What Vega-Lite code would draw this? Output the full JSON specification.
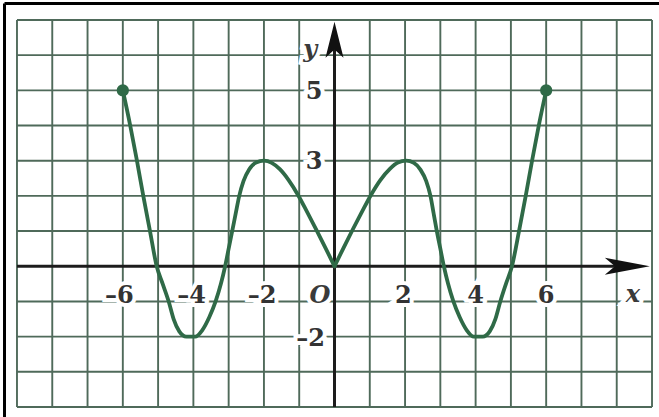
{
  "$schema": "https://vega.github.io/schema/vega-lite/v6.json",
  "width": 655,
  "height": 414,
  "autosize": {"type": "none"},
  "padding": {"left": 4, "top": 3, "right": 0, "bottom": 0},
  "background": "white",
  "config": {"view": {"stroke": null}},
  "datasets": {
    "gx": [{"v": -9}, {"v": -8}, {"v": -7}, {"v": -6}, {"v": -5}, {"v": -4}, {"v": -3}, {"v": -2}, {"v": -1}, {"v": 1}, {"v": 2}, {"v": 3}, {"v": 4}, {"v": 5}, {"v": 6}, {"v": 7}, {"v": 8}, {"v": 9}],
    "gy": [{"v": -4}, {"v": -3}, {"v": -2}, {"v": -1}, {"v": 1}, {"v": 2}, {"v": 3}, {"v": 4}, {"v": 5}, {"v": 6}, {"v": 7}],
    "axes": [
      {"x1": -9, "x2": 8.4, "y1": 0, "y2": 0},
      {"x1": 0, "x2": 0, "y1": -4, "y2": 6.6}
    ],
    "arrowx": [{"x": 8.3, "y": 0}],
    "arrowy": [{"x": 0, "y": 6.44}],
    "curve": [
      {"h": "L", "x": -6, "y": 5},
      {"h": "L", "x": -5.79, "y": 4},
      {"h": "L", "x": -5.6, "y": 3},
      {"h": "L", "x": -5.42, "y": 2},
      {"h": "L", "x": -5.23, "y": 1},
      {"h": "L", "x": -5.04, "y": 0},
      {"h": "L", "x": -4.87, "y": -0.5},
      {"h": "L", "x": -4.7, "y": -1},
      {"h": "L", "x": -4.56, "y": -1.5},
      {"h": "L", "x": -4.4, "y": -1.85},
      {"h": "L", "x": -4.2, "y": -2},
      {"h": "L", "x": -3.95, "y": -2},
      {"h": "L", "x": -3.75, "y": -1.82},
      {"h": "L", "x": -3.55, "y": -1.45},
      {"h": "L", "x": -3.37, "y": -1},
      {"h": "L", "x": -3.22, "y": -0.5},
      {"h": "L", "x": -3.1, "y": 0},
      {"h": "L", "x": -3.0, "y": 0.5},
      {"h": "L", "x": -2.9, "y": 1},
      {"h": "L", "x": -2.8, "y": 1.5},
      {"h": "L", "x": -2.7, "y": 2},
      {"h": "L", "x": -2.58, "y": 2.42},
      {"h": "L", "x": -2.42, "y": 2.75},
      {"h": "L", "x": -2.22, "y": 2.95},
      {"h": "L", "x": -2.0, "y": 3},
      {"h": "L", "x": -1.78, "y": 2.94},
      {"h": "L", "x": -1.55, "y": 2.76},
      {"h": "L", "x": -1.3, "y": 2.45},
      {"h": "L", "x": -1.03, "y": 2.02},
      {"h": "L", "x": -0.77, "y": 1.53},
      {"h": "L", "x": -0.51, "y": 1.03},
      {"h": "L", "x": -0.25, "y": 0.51},
      {"h": "L", "x": 0, "y": 0},
      {"h": "R", "x": 0, "y": 0},
      {"h": "R", "x": 0.25, "y": 0.51},
      {"h": "R", "x": 0.51, "y": 1.03},
      {"h": "R", "x": 0.77, "y": 1.53},
      {"h": "R", "x": 1.03, "y": 2.02},
      {"h": "R", "x": 1.3, "y": 2.45},
      {"h": "R", "x": 1.57, "y": 2.77},
      {"h": "R", "x": 1.8, "y": 2.95},
      {"h": "R", "x": 2.03, "y": 3},
      {"h": "R", "x": 2.25, "y": 2.94},
      {"h": "R", "x": 2.44, "y": 2.74},
      {"h": "R", "x": 2.6, "y": 2.42},
      {"h": "R", "x": 2.72, "y": 2},
      {"h": "R", "x": 2.81, "y": 1.5},
      {"h": "R", "x": 2.9, "y": 1},
      {"h": "R", "x": 3.0, "y": 0.5},
      {"h": "R", "x": 3.1, "y": 0},
      {"h": "R", "x": 3.22, "y": -0.5},
      {"h": "R", "x": 3.37, "y": -1},
      {"h": "R", "x": 3.55, "y": -1.45},
      {"h": "R", "x": 3.75, "y": -1.82},
      {"h": "R", "x": 3.95, "y": -2},
      {"h": "R", "x": 4.2, "y": -2},
      {"h": "R", "x": 4.4, "y": -1.85},
      {"h": "R", "x": 4.56, "y": -1.5},
      {"h": "R", "x": 4.7, "y": -1},
      {"h": "R", "x": 4.86, "y": -0.5},
      {"h": "R", "x": 5.03, "y": 0},
      {"h": "R", "x": 5.23, "y": 1},
      {"h": "R", "x": 5.42, "y": 2},
      {"h": "R", "x": 5.6, "y": 3},
      {"h": "R", "x": 5.79, "y": 4},
      {"h": "R", "x": 6, "y": 5}
    ],
    "dots": [{"x": -6, "y": 5}, {"x": 6, "y": 5}],
    "nums": [
      {"t": "–6", "x": -6.1, "y": -0.85},
      {"t": "–4", "x": -4.05, "y": -0.85},
      {"t": "–2", "x": -2.05, "y": -0.85},
      {"t": "2", "x": 1.95, "y": -0.85},
      {"t": "4", "x": 4.0, "y": -0.85},
      {"t": "6", "x": 6.0, "y": -0.85},
      {"t": "5", "x": -0.58, "y": 4.95},
      {"t": "3", "x": -0.58, "y": 2.96},
      {"t": "–2", "x": -0.68, "y": -2.07}
    ],
    "letters": [
      {"t": "O", "x": -0.41, "y": -0.85},
      {"t": "x", "x": 8.46, "y": -0.82},
      {"t": "y", "x": -0.69, "y": 6.15}
    ]
  },
  "layer": [
    {
      "data": {"name": "gx"},
      "mark": {"type": "rule", "color": "#4f6a5a", "strokeWidth": 1.9},
      "encoding": {
        "x": {"field": "v", "type": "quantitative", "scale": {"domain": [-9.368, 9.198], "nice": false, "zero": false},
              "axis": {"orient": "top", "domain": true, "domainColor": "#000000", "domainWidth": 3, "labels": false, "ticks": false, "grid": false, "title": null}},
        "y": {"datum": -4, "type": "quantitative", "scale": {"domain": [-4.285, 7.483], "nice": false, "zero": false},
              "axis": {"orient": "left", "domain": true, "domainColor": "#000000", "domainWidth": 3, "labels": false, "ticks": false, "grid": false, "title": null}},
        "y2": {"datum": 7}
      }
    },
    {
      "data": {"name": "gy"},
      "mark": {"type": "rule", "color": "#4f6a5a", "strokeWidth": 1.9},
      "encoding": {
        "y": {"field": "v", "type": "quantitative"},
        "x": {"datum": -9, "type": "quantitative"},
        "x2": {"datum": 9}
      }
    },
    {
      "data": {"name": "nums"},
      "mark": {"type": "text", "font": "DejaVu Serif", "fontWeight": "bold", "fontSize": 24, "baseline": "middle", "align": "center", "stroke": "white", "strokeWidth": 8, "color": "white"},
      "encoding": {
        "x": {"field": "x", "type": "quantitative"},
        "y": {"field": "y", "type": "quantitative"},
        "text": {"field": "t"}
      }
    },
    {
      "data": {"name": "letters"},
      "mark": {"type": "text", "font": "DejaVu Serif", "fontStyle": "italic", "fontWeight": "bold", "fontSize": 24, "baseline": "middle", "align": "center", "stroke": "white", "strokeWidth": 8, "color": "white"},
      "encoding": {
        "x": {"field": "x", "type": "quantitative"},
        "y": {"field": "y", "type": "quantitative"},
        "text": {"field": "t"}
      }
    },
    {
      "data": {"name": "nums"},
      "mark": {"type": "text", "font": "DejaVu Serif", "fontWeight": "bold", "fontSize": 24, "baseline": "middle", "align": "center", "color": "#333333"},
      "encoding": {
        "x": {"field": "x", "type": "quantitative"},
        "y": {"field": "y", "type": "quantitative"},
        "text": {"field": "t"}
      }
    },
    {
      "data": {"name": "letters"},
      "mark": {"type": "text", "font": "DejaVu Serif", "fontStyle": "italic", "fontWeight": "bold", "fontSize": 24, "baseline": "middle", "align": "center", "color": "#3a3a3a"},
      "encoding": {
        "x": {"field": "x", "type": "quantitative"},
        "y": {"field": "y", "type": "quantitative"},
        "text": {"field": "t"}
      }
    },
    {
      "data": {"name": "axes"},
      "mark": {"type": "rule", "color": "#1c1c1c", "strokeWidth": 3},
      "encoding": {
        "x": {"field": "x1", "type": "quantitative"},
        "x2": {"field": "x2"},
        "y": {"field": "y1", "type": "quantitative"},
        "y2": {"field": "y2"}
      }
    },
    {
      "data": {"name": "arrowx"},
      "mark": {"type": "point", "filled": true, "color": "#111111", "opacity": 1, "size": 2025, "shape": "M1,0L-1,-0.38L-0.55,0L-1,0.38Z"},
      "encoding": {
        "x": {"field": "x", "type": "quantitative"},
        "y": {"field": "y", "type": "quantitative"}
      }
    },
    {
      "data": {"name": "arrowy"},
      "mark": {"type": "point", "filled": true, "color": "#111111", "opacity": 1, "size": 1296, "shape": "M0,-1L0.5,1L0,0.55L-0.5,1Z"},
      "encoding": {
        "x": {"field": "x", "type": "quantitative"},
        "y": {"field": "y", "type": "quantitative"}
      }
    },
    {
      "data": {"name": "curve"},
      "mark": {"type": "line", "color": "#2f6a47", "strokeWidth": 3.8, "interpolate": "monotone", "strokeCap": "round", "strokeJoin": "round"},
      "encoding": {
        "x": {"field": "x", "type": "quantitative"},
        "y": {"field": "y", "type": "quantitative"},
        "detail": {"field": "h"}
      }
    },
    {
      "data": {"name": "dots"},
      "mark": {"type": "point", "filled": true, "color": "#2f6a47", "opacity": 1, "size": 150, "shape": "circle"},
      "encoding": {
        "x": {"field": "x", "type": "quantitative"},
        "y": {"field": "y", "type": "quantitative"}
      }
    }
  ]
}
